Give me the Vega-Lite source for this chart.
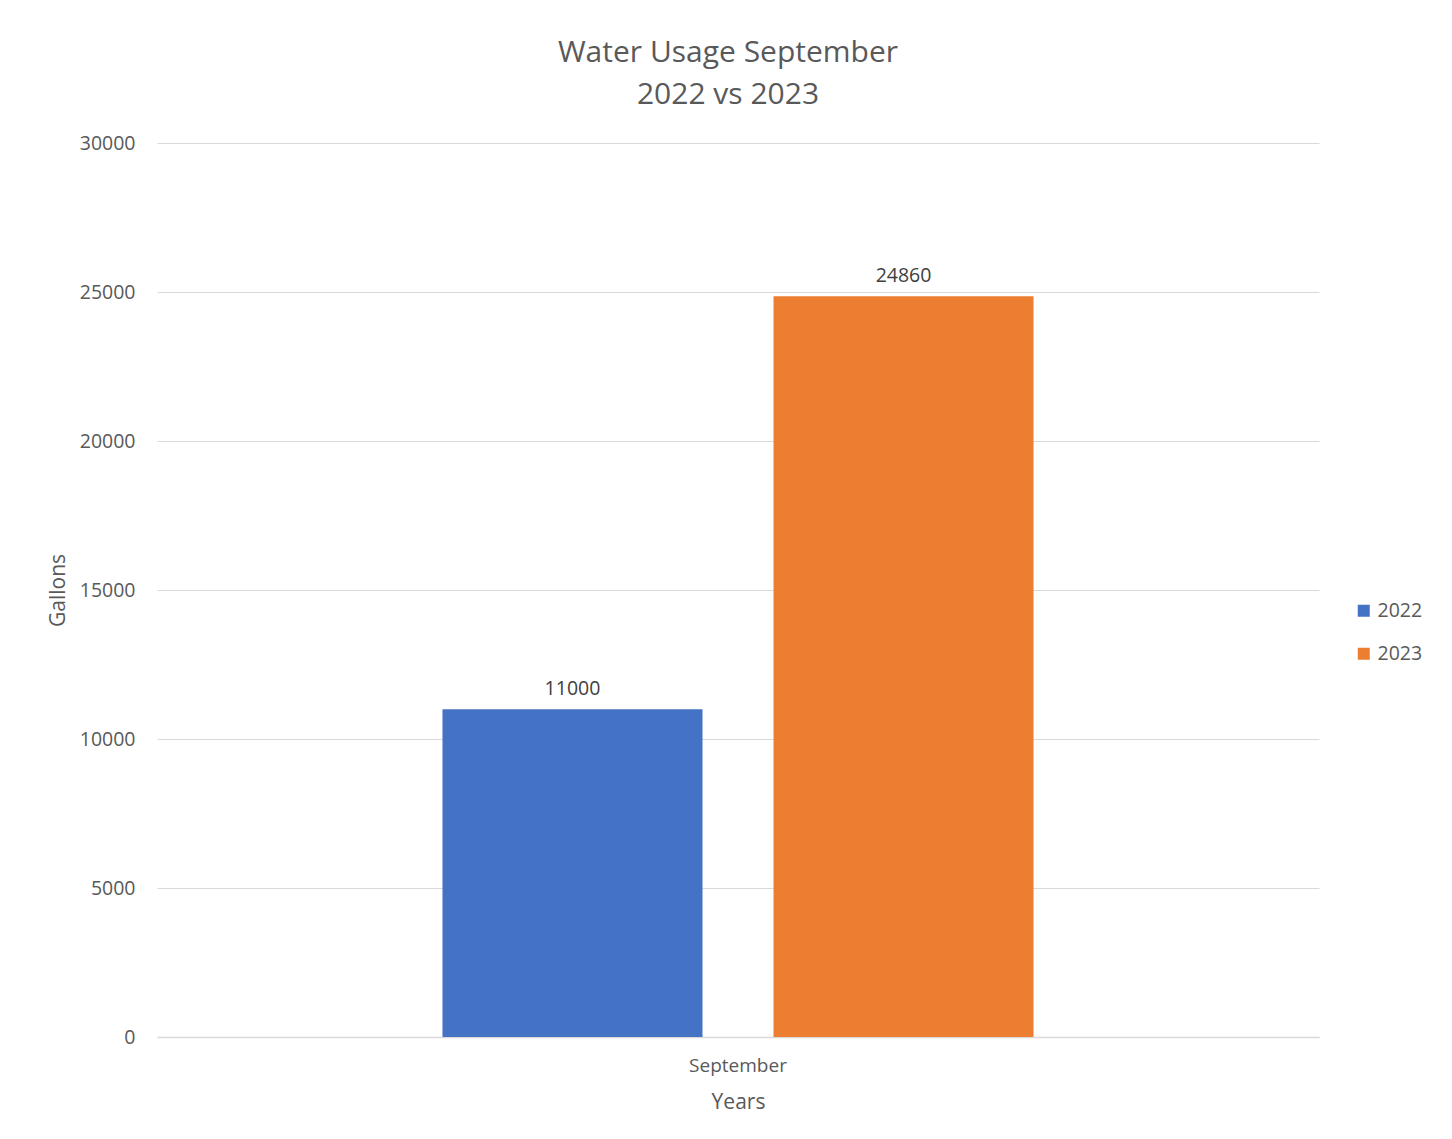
{
  "$schema": "https://vega.github.io/schema/vega-lite/v6.json",
  "width": 1162,
  "height": 894,
  "autosize": {"type": "none"},
  "padding": {"left": 157, "top": 143, "right": 133, "bottom": 102},
  "background": "white",
  "title": {
    "text": ["Water Usage September", "2022 vs 2023"],
    "fontSize": 30,
    "font": "Open Sans",
    "fontWeight": "normal",
    "color": "#595959",
    "lineHeight": 42,
    "offset": 23,
    "dx": -10
  },
  "config": {
    "view": {"stroke": null},
    "font": "Open Sans"
  },
  "data": {
    "values": [
      {"month": "September", "year": "2022", "gallons": 11000},
      {"month": "September", "year": "2023", "gallons": 24860}
    ]
  },
  "encoding": {
    "x": {
      "field": "month",
      "type": "nominal",
      "scale": {"paddingInner": 0, "paddingOuter": 0.483},
      "axis": {
        "title": "Years",
        "labelAngle": 0,
        "ticks": false,
        "domain": true,
        "domainColor": "#d9d9d9",
        "domainWidth": 1.5,
        "labelFont": "Open Sans",
        "labelFontSize": 19,
        "labelColor": "#595959",
        "labelPadding": 19,
        "titleFont": "Open Sans",
        "titleFontSize": 21,
        "titleColor": "#595959",
        "titleFontWeight": "normal",
        "titlePadding": 16
      }
    },
    "xOffset": {
      "field": "year",
      "type": "nominal",
      "scale": {"paddingInner": 0.2145, "paddingOuter": 0}
    },
    "y": {
      "field": "gallons",
      "type": "quantitative",
      "scale": {"domain": [0, 30000], "nice": false},
      "axis": {
        "title": "Gallons",
        "values": [0, 5000, 10000, 15000, 20000, 25000, 30000],
        "format": "d",
        "grid": true,
        "gridColor": "#d9d9d9",
        "gridWidth": 1.2,
        "ticks": false,
        "domain": false,
        "labelFont": "Open Sans",
        "labelFontSize": 19.5,
        "labelColor": "#595959",
        "labelPadding": 22,
        "titleFont": "Open Sans",
        "titleFontSize": 21,
        "titleColor": "#595959",
        "titleFontWeight": "normal",
        "titlePadding": 11
      }
    },
    "color": {
      "field": "year",
      "type": "nominal",
      "scale": {"domain": ["2022", "2023"], "range": ["#4472C4", "#ED7D31"]},
      "legend": {
        "title": null,
        "orient": "none",
        "legendX": 1197,
        "legendY": 458,
        "symbolType": "square",
        "symbolSize": 144,
        "symbolStrokeWidth": 0,
        "labelFont": "Open Sans",
        "labelFontSize": 19.5,
        "labelColor": "#595959",
        "labelOffset": 4,
        "rowPadding": 22
      }
    }
  },
  "layer": [
    {"mark": {"type": "bar"}},
    {
      "mark": {
        "type": "text",
        "baseline": "bottom",
        "dy": -10,
        "fontSize": 19.5,
        "font": "Open Sans",
        "color": "#404040"
      },
      "encoding": {
        "text": {"field": "gallons", "type": "quantitative", "format": "d"},
        "color": {"value": "#404040"}
      }
    }
  ]
}
